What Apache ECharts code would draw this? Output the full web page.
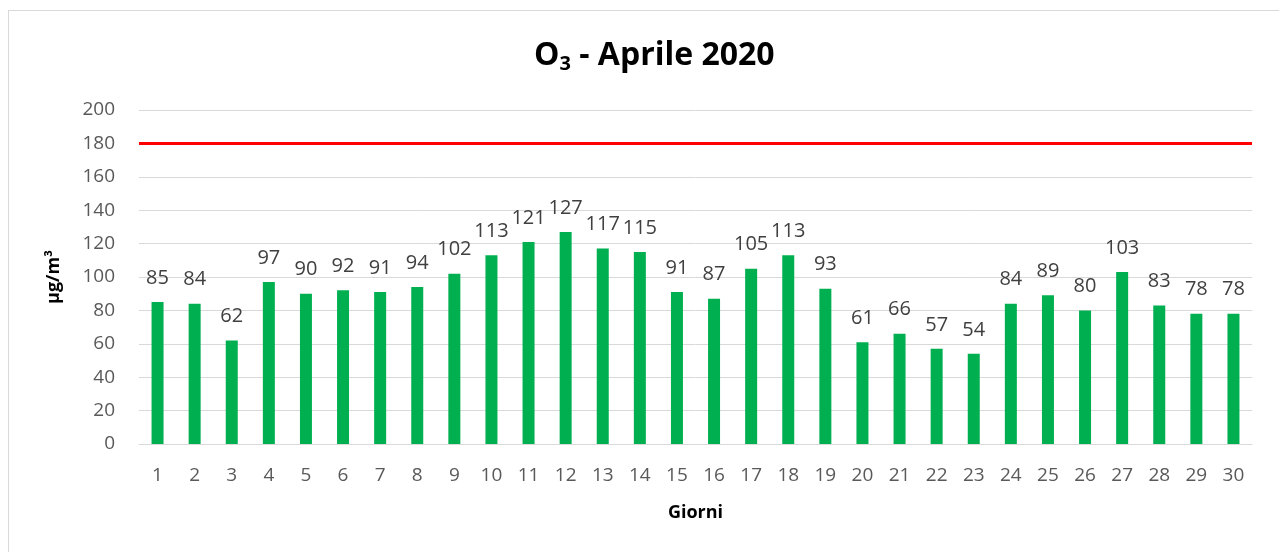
<!DOCTYPE html>
<html lang="it">
<head>
	<meta charset="UTF-8">
	<title>O3 - Aprile 2020</title>
	<script src="https://cdn.jsdelivr.net/npm/echarts@6/dist/echarts.min.js"></script>
	<style>
		html, body { margin: 0; padding: 0; overflow: hidden; background: #fff; }
		#frame { position: absolute; left: 8px; top: 10px; width: 1400px; height: 700px; border: 1px solid #d9d9d9; }
		#chart { position: absolute; left: 0; top: 0; width: 1279px; height: 552px; }
	</style>
</head>
<body>
	<div id="frame"></div>
	<div id="chart"></div>

	<script>
		// giorni di aprile
		var giorni = [];
		for (var i = 1; i <= 30; i++) giorni.push(String(i));
		// media max 8h O3 (µg/m³)
		var valori = [85, 84, 62, 97, 90, 92, 91, 94, 102, 113, 121, 127, 117, 115, 91,
			87, 105, 113, 93, 61, 66, 57, 54, 84, 89, 80, 103, 83, 78, 78];
		var sogliaInfo = 180; // soglia di informazione
		var yTicks = { min: 0, max: 200, interval: 20 };

		var chart = echarts.init(document.getElementById('chart'));
		var font = 'Open Sans, Liberation Sans, sans-serif';
		chart.setOption({
			animation: false,
			title: {
				text: '{b|O}{s|3}{b| - Aprile 2020}',
				left: 529,
				top: 33,
				textStyle: {
					rich: {
						b: { fontSize: 32, fontWeight: 'bold', color: '#000', fontFamily: font },
						s: { fontSize: 20, fontWeight: 'bold', color: '#000', fontFamily: font, padding: [16, 0, 0, 0] }
					}
				}
			},
			grid: { left: 139, right: 27, top: 110, bottom: 108 },
			xAxis: {
				type: 'category',
				data: giorni,
				name: 'Giorni',
				nameLocation: 'middle',
				nameGap: 60,
				nameTextStyle: { fontSize: 18, fontWeight: 'bold', color: '#000', fontFamily: font },
				axisLine: { lineStyle: { color: '#d9d9d9', width: 1 } },
				axisTick: { show: false },
				axisLabel: { fontSize: 19, color: '#595959', margin: 22, fontFamily: font }
			},
			yAxis: {
				type: 'value',
				min: yTicks.min,
				max: yTicks.max,
				interval: yTicks.interval,
				name: 'µg/m³',
				nameLocation: 'middle',
				nameGap: 76,
				nameRotate: 90,
				nameTextStyle: { fontSize: 18, fontWeight: 'bold', color: '#000', fontFamily: font },
				axisLine: { show: false },
				axisTick: { show: false },
				axisLabel: { fontSize: 19, color: '#595959', margin: 24, fontFamily: font },
				splitLine: { lineStyle: { color: '#d9d9d9', width: 1 } }
			},
			series: [{
				type: 'bar',
				data: valori,
				barWidth: 12,
				itemStyle: { color: '#00b050' },
				label: {
					show: true,
					position: 'top',
					distance: 14,
					fontSize: 20,
					color: '#404040',
					fontFamily: font
				},
				markLine: {
					silent: true,
					symbol: 'none',
					label: { show: false },
					lineStyle: { color: '#ff0000', width: 3, type: 'solid' },
					data: [{ yAxis: sogliaInfo }]
				}
			}]
		});
	</script>
</body>
</html>
